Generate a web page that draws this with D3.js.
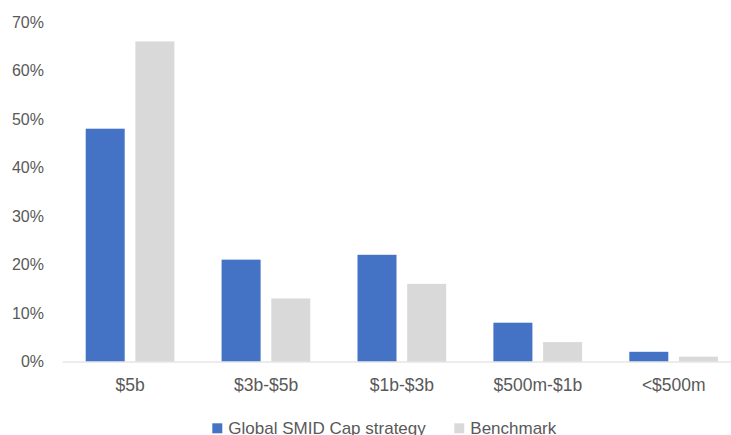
<!DOCTYPE html>
<html>
<head>
<meta charset="utf-8">
<script src="https://cdn.jsdelivr.net/npm/d3@7"></script>
<style>
  html, body { margin: 0; padding: 0; background: #fff; }
  svg { display: block; font-family: "Liberation Sans", Arial, sans-serif; }
</style>
</head>
<body>
<svg id="chart" width="731" height="435"></svg>
<script>
const categories = ["$5b", "$3b-$5b", "$1b-$3b", "$500m-$1b", "<$500m"];
const seriesNames = ["Global SMID Cap strategy", "Benchmark"];
const strategyValues = [48, 21, 22, 8, 2];
const benchmarkValues = [66, 13, 16, 4, 1];
const yTicks = [0, 10, 20, 30, 40, 50, 60, 70];
const colors = ["#4472c4", "#d9d9d9"];

(function () {
const svg = d3.select("#chart");
const plotLeft = 62.2, plotRight = 741.7, plotTop = 22, plotBottom = 361.5;

const x0 = d3.scaleBand().domain(categories).range([plotLeft, plotRight]).paddingInner(0).paddingOuter(0);
const x1 = d3.scaleBand().domain(seriesNames).range([23.5, 23.5 + 88.7]).paddingInner(0.2153).paddingOuter(0);
const y = d3.scaleLinear().domain([0, 70]).range([plotBottom, plotTop]);

const textColor = "#595959";

// Y axis labels
const yAxis = d3.axisLeft(y).tickValues(yTicks).tickFormat(d => d + "%").tickSize(0).tickPadding(0);
const yg = svg.append("g").attr("transform", "translate(44,0)").call(yAxis);
yg.select(".domain").remove();
yg.selectAll("text").attr("fill", textColor).style("font-size", "16px")
  .style("font-family", "'Liberation Sans', Arial, sans-serif");

// Bars
const data = categories.map((c, i) => ({ cat: c, vals: [strategyValues[i], benchmarkValues[i]] }));
const groups = svg.append("g").selectAll("g").data(data).join("g")
  .attr("transform", d => `translate(${x0(d.cat)},0)`);
groups.selectAll("rect").data(d => d.vals.map((v, j) => ({ name: seriesNames[j], v, j })))
  .join("rect")
  .attr("x", d => x1(d.name))
  .attr("width", x1.bandwidth())
  .attr("y", d => y(d.v))
  .attr("height", d => y(0) - y(d.v))
  .attr("fill", d => colors[d.j]);

// X axis baseline and labels
const xAxis = d3.axisBottom(x0).tickSize(0).tickPadding(0);
const xg = svg.append("g").attr("transform", `translate(0,${plotBottom})`).call(xAxis);
xg.select(".domain").attr("stroke", "#d9d9d9").attr("stroke-width", 1.2);
xg.selectAll("text").attr("fill", textColor).attr("dy", null).attr("y", 29.5)
  .style("font-size", "17.5px")
  .style("font-family", "'Liberation Sans', Arial, sans-serif");

// Legend
const legendX = [212.3, 454.3];
const legend = svg.append("g");
seriesNames.forEach((name, i) => {
  legend.append("rect").attr("x", legendX[i]).attr("y", 423.3).attr("width", 10).attr("height", 10).attr("fill", colors[i]);
  legend.append("text").attr("x", legendX[i] + 16).attr("y", 434)
    .attr("fill", textColor).style("font-size", "17px").text(name);
});
})();
</script>
</body>
</html>
